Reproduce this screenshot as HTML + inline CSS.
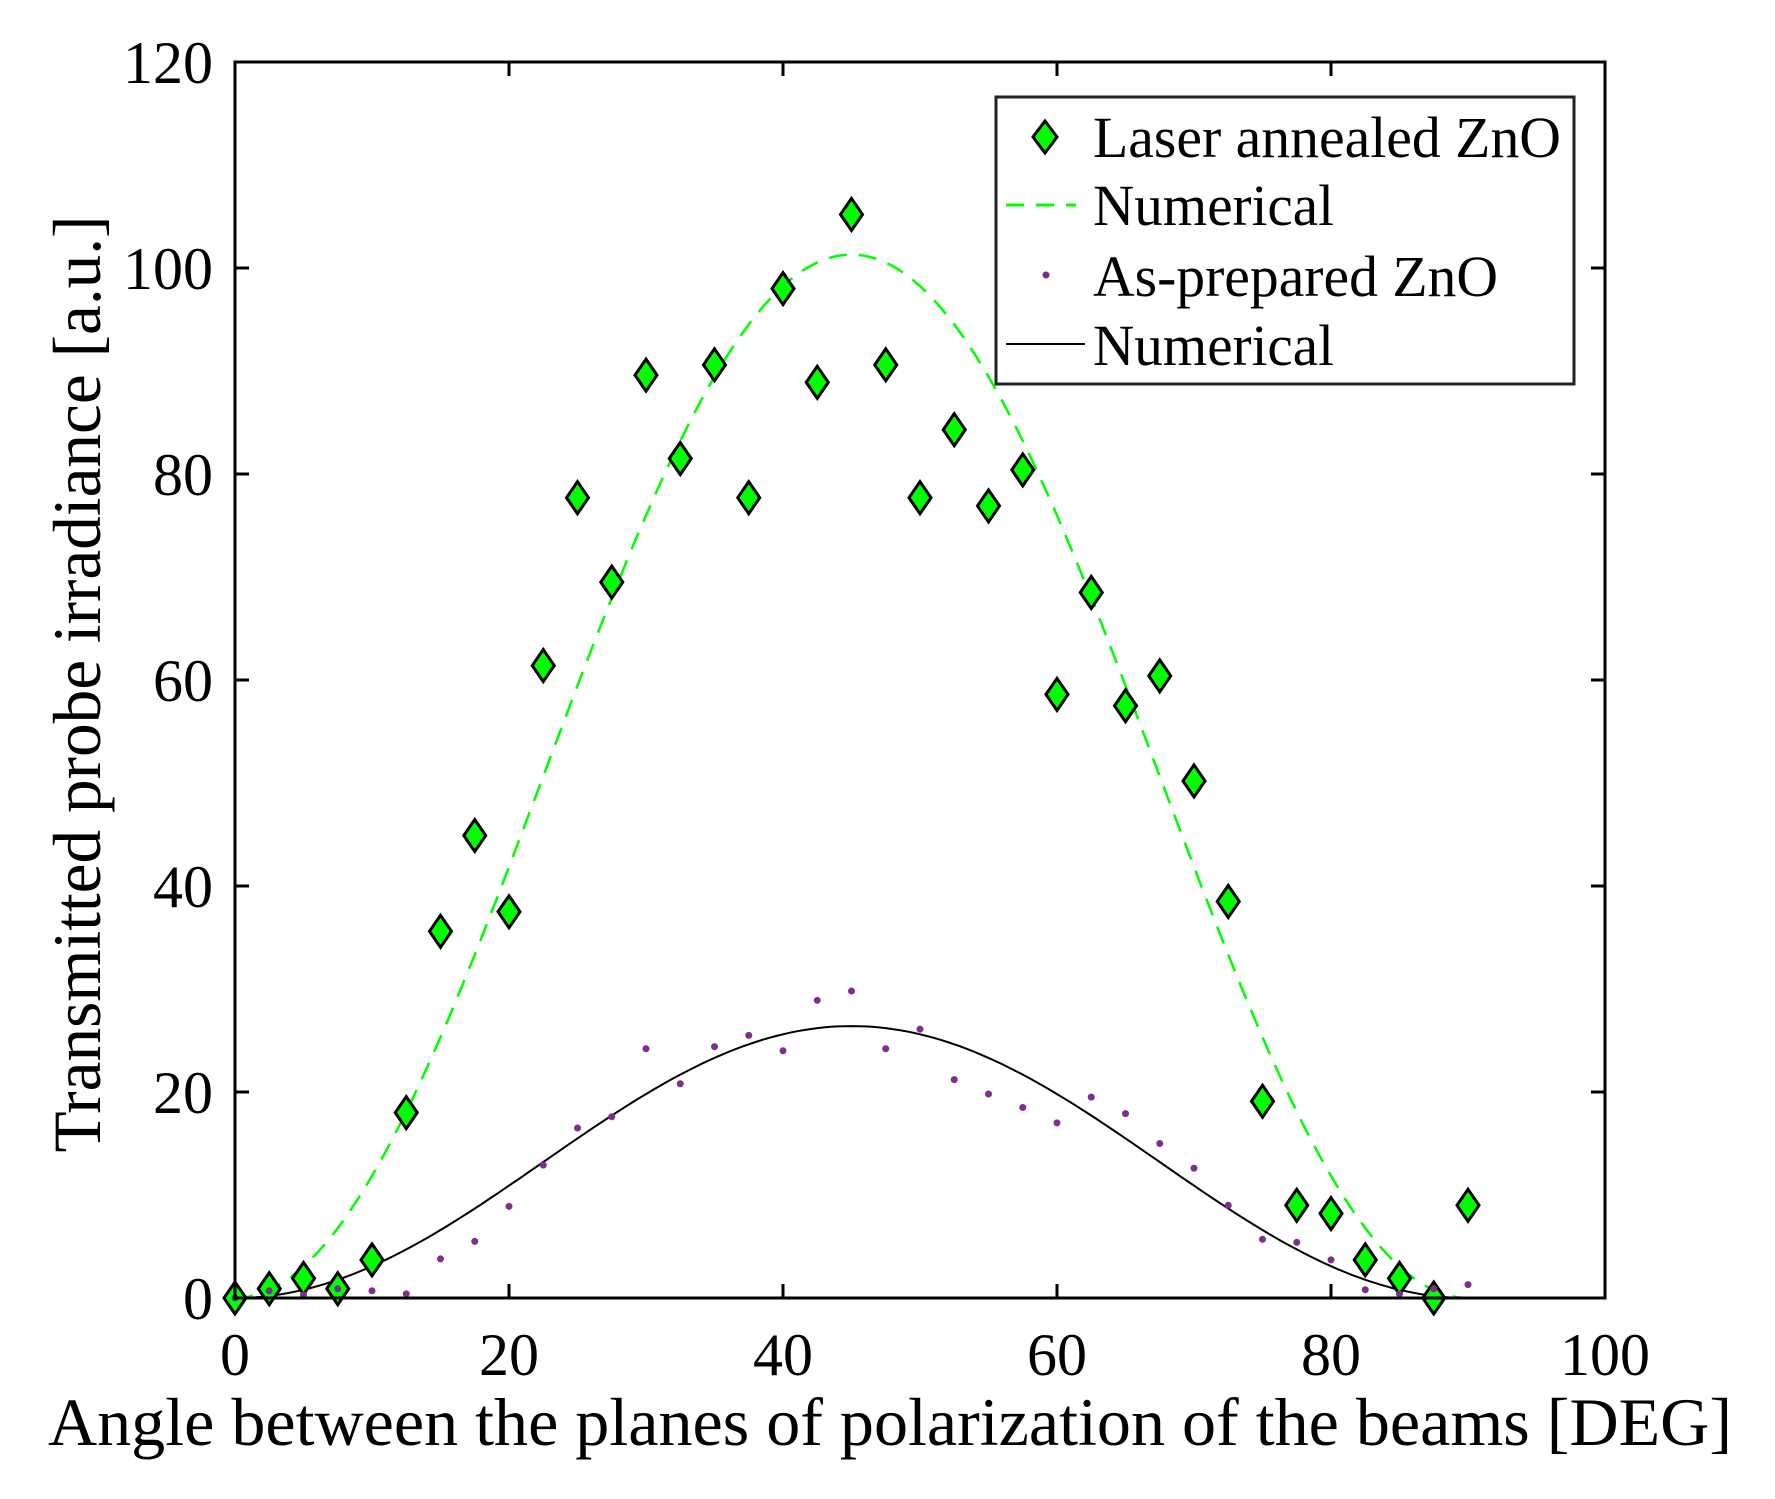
<!DOCTYPE html>
<html><head><meta charset="utf-8"><style>
html,body{margin:0;padding:0;background:#fff;}
svg{display:block;font-family:"Liberation Serif",serif;}
</style></head><body>
<svg id="s" width="1775" height="1499" viewBox="0 0 1775 1499" xmlns="http://www.w3.org/2000/svg">
<rect width="1775" height="1499" fill="#fff"/>
<g id="curves"></g>
<g id="pts"></g>
<rect x="235" y="62" width="1370" height="1236" fill="none" stroke="#000" stroke-width="3"/>
<g id="ticks" stroke="#000" stroke-width="3"></g>
<g id="labels" font-size="60" fill="#000"></g>
<text x="890" y="1445" font-size="68" text-anchor="middle" textLength="1684" lengthAdjust="spacingAndGlyphs">Angle between the planes of polarization of the beams [DEG]</text>
<text transform="translate(100,684) rotate(-90)" font-size="68" text-anchor="middle" textLength="937" lengthAdjust="spacingAndGlyphs">Transmitted probe irradiance [a.u.]</text>
<g>
<rect x="996" y="97" width="578" height="287" fill="#fff" stroke="#222" stroke-width="3"/>
<path d="M1045,121 L1057,137 L1045,153 L1033,137 Z" fill="#00ff00" stroke="#000" stroke-width="3"/>
<line x1="1006" y1="205" x2="1076" y2="205" stroke="#00ff00" stroke-width="3" stroke-dasharray="18,12"/>
<circle cx="1046" cy="275" r="3.5" fill="#7e2f8e"/>
<line x1="1006" y1="344" x2="1085" y2="344" stroke="#000" stroke-width="2"/>
<g font-size="58">
<text x="1093" y="157" textLength="468" lengthAdjust="spacingAndGlyphs">Laser annealed ZnO</text>
<text x="1093" y="225" textLength="241" lengthAdjust="spacingAndGlyphs">Numerical</text>
<text x="1093" y="296" textLength="405" lengthAdjust="spacingAndGlyphs">As-prepared ZnO</text>
<text x="1093" y="365" textLength="241" lengthAdjust="spacingAndGlyphs">Numerical</text>
</g>
</g>
</svg>
<script>
var NS="http://www.w3.org/2000/svg";
function X(x){return 235+x*13.7;}
function Y(y){return 1298-y*10.3;}
function el(p,t,a){var e=document.createElementNS(NS,t);for(var k in a)e.setAttribute(k,a[k]);document.getElementById(p).appendChild(e);return e;}
for(var i=0;i<=5;i++){var x=X(i*20);
 el("ticks","line",{x1:x,y1:1298,x2:x,y2:1284});el("ticks","line",{x1:x,y1:62,x2:x,y2:76});
 var t=el("labels","text",{x:x,y:1375,"text-anchor":"middle"});t.textContent=String(i*20);}
for(var i=0;i<=6;i++){var y=Y(i*20);
 el("ticks","line",{x1:235,y1:y,x2:249,y2:y});el("ticks","line",{x1:1605,y1:y,x2:1591,y2:y});
 var t=el("labels","text",{x:213,y:y+21,"text-anchor":"end"});t.textContent=String(i*20);}
var g="",b="";
for(var a=0;a<=90;a+=0.5){var s=Math.sin(2*a*Math.PI/180);s*=s;
 g+=(a?"L":"M")+X(a).toFixed(1)+","+Y(101.3*s).toFixed(1);
 b+=(a?"L":"M")+X(a).toFixed(1)+","+Y(26.4*s).toFixed(1);}
el("curves","path",{d:b,fill:"none",stroke:"#000","stroke-width":2});
el("curves","path",{d:g,fill:"none",stroke:"#00ff00","stroke-width":2.5,"stroke-dasharray":"18,12"});
var G=[0,0.9,1.9,0.9,3.7,18,35.6,44.9,37.5,61.4,77.7,69.5,89.6,81.5,90.6,77.7,98,88.9,105.2,90.6,77.7,84.3,76.9,80.4,58.6,68.5,57.5,60.4,50.2,38.5,19.1,9,8.2,3.7,1.9,0,9];
var P=[0,0.7,0.3,0.9,0.7,0.4,3.8,5.5,8.9,12.9,16.5,17.6,24.2,20.8,24.4,25.5,24,28.9,29.8,24.2,26.1,21.2,19.8,18.5,17,19.5,17.9,15,12.6,9,5.7,5.4,3.7,0.8,0.4,0.9,1.3];
for(var i=0;i<G.length;i++){var x=X(i*2.5),y=Y(G[i]);
 el("pts","path",{d:"M"+x+","+(y-16)+" L"+(x+11)+","+y+" L"+x+","+(y+16)+" L"+(x-11)+","+y+" Z",fill:"#00ff00",stroke:"#000","stroke-width":3});}
for(var i=0;i<P.length;i++){el("pts","circle",{cx:X(i*2.5),cy:Y(P[i]),r:3.5,fill:"#7e2f8e"});}
</script>
</body></html>
